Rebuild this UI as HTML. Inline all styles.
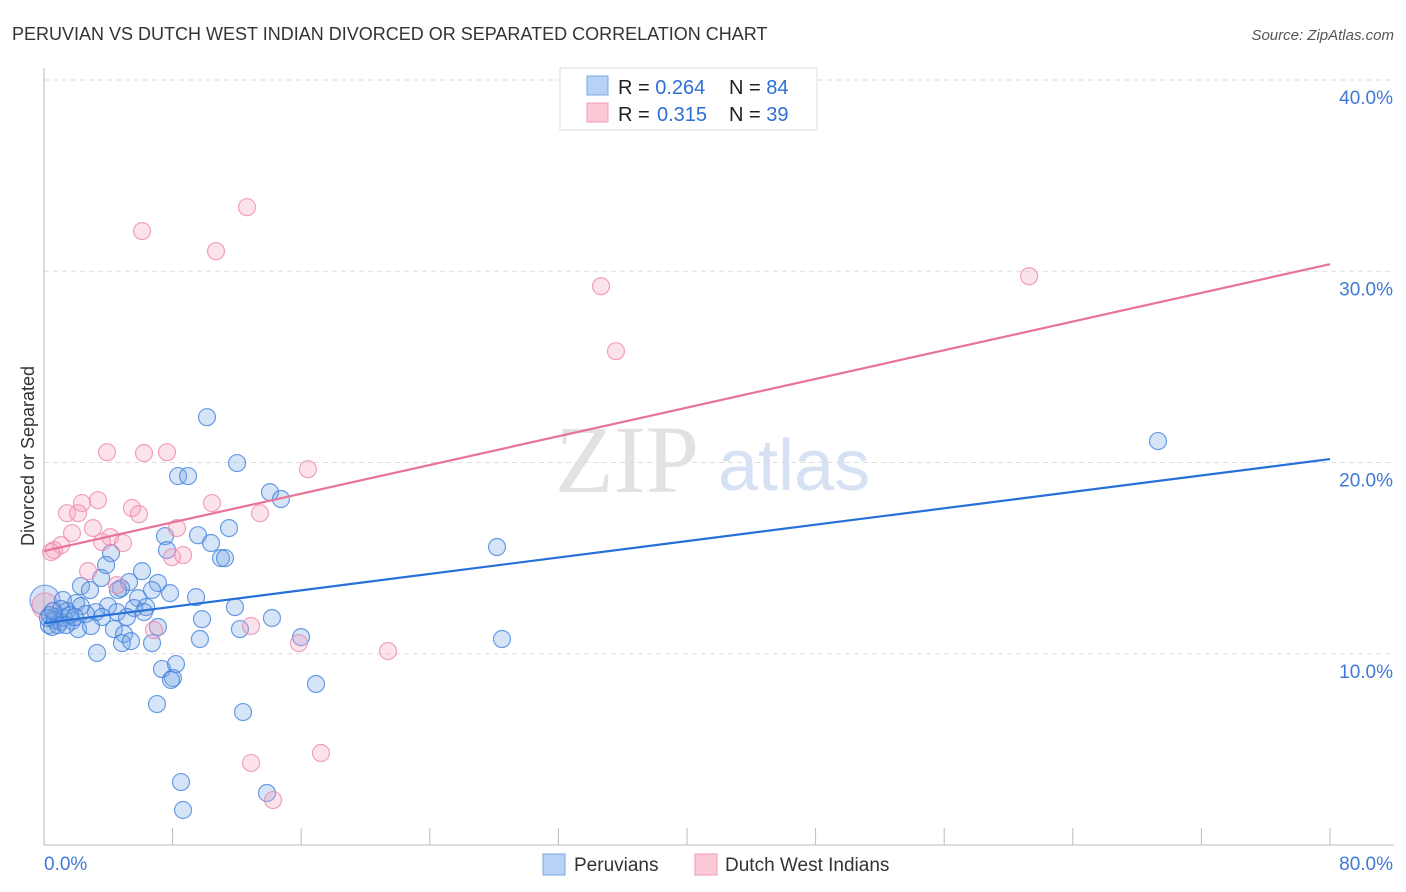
<!DOCTYPE html>
<html><head><meta charset="utf-8">
<style>
body{margin:0;background:#fff;font-family:"Liberation Sans",sans-serif;}
svg{display:block}
</style></head>
<body>
<svg id="chart" width="1406" height="892" xmlns="http://www.w3.org/2000/svg">
<text x="12" y="40" font-size="18" fill="#333">PERUVIAN VS DUTCH WEST INDIAN DIVORCED OR SEPARATED CORRELATION CHART</text>
<text x="1394" y="40" font-size="15" fill="#555" font-style="italic" text-anchor="end">Source: ZipAtlas.com</text>
<text transform="translate(34,456) rotate(-90)" font-size="18" fill="#333" text-anchor="middle">Divorced or Separated</text>
<g>
<text x="555" y="492" font-size="96" font-family="Liberation Serif,serif" fill="#e2e2e2">ZIP</text>
<text x="718" y="490" font-size="72" fill="#d6e2f4">atlas</text>
</g>
<g id="grid"></g>
<g id="axes"></g>
<g id="pts"></g>
<g id="lines"></g>
<g>
<rect x="560" y="68" width="257" height="62" fill="#fff" stroke="#ddd"/>
<rect x="587" y="76" width="21" height="19" fill="#b7d2f6" stroke="#7aa7e6"/>
<rect x="587" y="103" width="21" height="19" fill="#fcc9d7" stroke="#f09ab4"/>
<text x="618" y="94" font-size="20" fill="#222">R = <tspan fill="#2d6fd6">0.264</tspan><tspan x="729">N = </tspan><tspan fill="#2d6fd6">84</tspan></text>
<text x="618" y="121" font-size="20" fill="#222">R = <tspan x="657" fill="#2d6fd6">0.315</tspan><tspan x="729">N = </tspan><tspan fill="#2d6fd6">39</tspan></text>
</g>
<g>
<rect x="543" y="854" width="22" height="21" fill="#b7d2f6" stroke="#7aa7e6"/>
<text x="574" y="871" font-size="19" fill="#333">Peruvians</text>
<rect x="695" y="854" width="22" height="21" fill="#fcc9d7" stroke="#f09ab4"/>
<text x="725" y="871" font-size="19" fill="#333">Dutch West Indians</text>
</g>
</svg>
<script>
const yTicks=[10,20,30,40];
const yTickLabels=["10.0%","20.0%","30.0%","40.0%"];
const xTicks=[0,10,20,30,40,50,60,70,80];
const xEndLabels=["0.0%","80.0%"];
const peruX=[10.14,8.34,8.96,12.01,14.06,14.74,11.51,9.58,7.53,10.39,7.65,4.17,11.01,11.26,3.86,6.10,3.55,5.29,7.09,2.30,2.86,4.79,4.60,6.72,7.84,5.85,9.46,1.18,1.99,3.98,2.30,11.88,6.35,5.60,4.54,6.22,1.06,1.43,3.23,3.61,5.16,2.61,9.83,14.18,0.68,1.00,1.74,0.31,0.50,7.09,12.19,4.35,2.12,2.92,4.98,15.99,9.70,4.85,5.41,6.72,3.30,7.34,8.21,8.02,7.90,16.92,7.03,12.38,8.52,13.87,8.65,28.18,28.49,69.30,0.37,0.68,0.87,1.24,1.62,0.25,0.56,1.37,1.93];
const peruY=[22.37,19.29,19.29,19.97,18.45,18.09,16.57,16.20,16.15,15.79,15.42,15.26,15.00,15.00,14.64,14.32,13.96,13.75,13.70,13.54,13.33,13.43,13.33,13.33,13.17,12.91,12.96,12.81,12.65,12.49,12.49,12.44,12.44,12.39,12.18,12.18,12.34,12.23,12.18,11.92,11.92,12.08,11.81,11.87,11.92,11.66,11.71,11.50,11.40,11.40,11.29,11.29,11.29,11.45,11.03,10.87,10.77,10.56,10.66,10.56,10.04,9.20,9.46,8.73,8.63,8.42,7.37,6.95,3.29,2.72,1.83,15.58,10.77,21.12,12.02,11.76,11.50,11.87,12.02,11.87,12.23,11.50,11.92];
const peruBigX=[0.06], peruBigY=[12.8];
const dutchX=[12.63,6.10,10.70,34.65,35.58,61.28,3.92,6.22,7.65,16.42,3.36,2.36,5.47,10.45,1.43,2.12,5.91,13.44,3.05,8.27,1.74,4.11,4.91,3.61,1.06,0.62,0.44,2.74,7.96,8.65,4.54,6.84,12.88,21.40,15.86,12.88,17.23,14.25];
const dutchY=[33.35,32.10,31.05,29.22,25.82,29.74,20.54,20.49,20.54,19.65,18.03,17.88,17.62,17.88,17.35,17.35,17.30,17.35,16.57,16.57,16.31,16.10,15.79,15.84,15.68,15.42,15.32,14.32,15.05,15.16,13.59,11.24,11.45,10.14,10.56,4.29,4.81,2.35];
const dutchBigX=[0.06], dutchBigY=[12.5];
const peruTrend=[11.6,20.18];  // y at x=0, x=80
const dutchTrend=[15.37,30.37];

const NS="http://www.w3.org/2000/svg";
const X0=44,X1=1330,Y0=845,Y40=80;
const sx=v=>X0+(X1-X0)*v/80;
const sy=v=>Y0-(Y0-Y40)*v/40;
function mk(tag,attrs,parent){const e=document.createElementNS(NS,tag);for(const k in attrs)e.setAttribute(k,attrs[k]);parent.appendChild(e);return e;}
const grid=document.getElementById('grid'),axes=document.getElementById('axes'),pts=document.getElementById('pts'),lines=document.getElementById('lines');
yTicks.forEach((t,i)=>{
  const l=mk('line',{x1:X0,x2:1394,y1:sy(t),y2:sy(t),stroke:'#ddd','stroke-dasharray':'5,4'},grid);
  
  
  const tx=mk('text',{x:1393,y:sy(t)+24,'font-size':19,fill:'#3f78d6','text-anchor':'end'},axes);
  tx.textContent=yTickLabels[i];
  
  
});
const ya=mk('line',{x1:X0,x2:X0,y1:68,y2:Y0,stroke:'#bbb'},axes);


const xa=mk('line',{x1:X0,x2:1394,y1:Y0,y2:Y0,stroke:'#bbb'},axes);


for(let v=0;v<=80;v+=80/10){
  const tk=mk('line',{x1:sx(v),x2:sx(v),y1:828,y2:Y0,stroke:'#bbb'},axes);
  
  
}
const xl0=mk('text',{x:44,y:870,'font-size':19,fill:'#3f78d6'},axes);xl0.textContent=xEndLabels[0];


const xl1=mk('text',{x:1393,y:870,'font-size':19,fill:'#3f78d6','text-anchor':'end'},axes);xl1.textContent=xEndLabels[1];


function dots(xs,ys,r,fill,stroke,name){
  xs.forEach((v,i)=>{
    const c=mk('circle',{cx:sx(v),cy:sy(ys[i]),r:r,fill:fill,stroke:stroke,'stroke-width':1.2},pts);
    
    
  });
}
dots(peruBigX,peruBigY,15,'rgba(120,160,225,0.3)','rgba(70,130,220,0.7)','peruvian-point-large');
dots(dutchBigX,dutchBigY,13,'rgba(240,150,180,0.3)','rgba(232,130,165,0.7)','dutch-point-large');
dots(peruX,peruY,8.5,'rgba(120,165,230,0.3)','rgba(60,125,220,0.75)','peruvian-point');
dots(dutchX,dutchY,8.5,'rgba(245,160,190,0.3)','rgba(235,135,170,0.75)','dutch-point');
const pl=mk('line',{x1:sx(0),y1:sy(peruTrend[0]),x2:sx(80),y2:sy(peruTrend[1]),stroke:'#2670d8','stroke-width':2.2},lines);


const dl=mk('line',{x1:sx(0),y1:sy(dutchTrend[0]),x2:sx(80),y2:sy(dutchTrend[1]),stroke:'#e8739a','stroke-width':2.2},lines);


</script>
</body></html>
